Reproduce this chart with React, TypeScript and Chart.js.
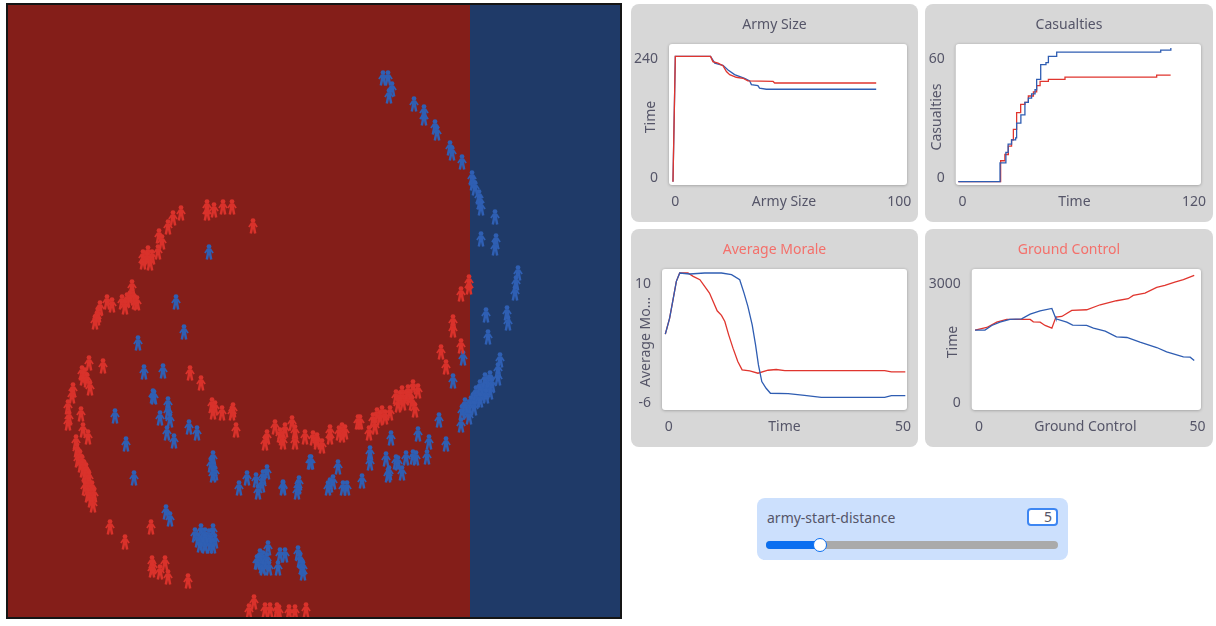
import React, { useEffect, useRef } from "react";
import { Chart, registerables } from "chart.js";

Chart.register(...registerables);

type Pt = [number, number];

const FONT = '"Noto Sans", sans-serif';
const TEXT = "#555568";
const RED = "#e0352e";
const BLUE = "#2f5db2";

// ---- battlefield: troop positions and front line ----
const frontLine = 469.5;

const redTroops: Pt[] = [
  [207,207],[207,213],[214,210],[223,207],[232,207],[253,226],[181,213],[173,218],[168,227],[159,236],[162,242],[158,252],
  [148,253],[143,257],[143,262],[152,257],[150,263],[147,259],[132,287],[132,295],[127,300],[135,302],[137,303],[130,298],
  [122,302],[125,307],[107,302],[112,305],[100,308],[97,318],[95,322],[98,315],
  [89,363],[103,366],[82,373],[85,375],[83,378],[87,380],[90,388],[73,390],[72,396],[68,407],[69,418],[68,423],[81,414],
  [83,430],[88,437],[76,442],[77,450],[78,460],[81,465],[80,457],[83,470],[85,475],[84,467],[86,480],[88,485],[87,475],
  [90,488],[91,493],[89,483],[92,498],[93,505],[91,500],[82,462],[86,470],[89,478],[92,488],[94,495],[85,488],[88,495],
  [110,527],[125,542],[151,527],[152,563],[153,567],[152,570],
  [165,563],[160,572],[168,577],[188,581],[254,602],[249,611],[265,610],[270,610],[277,610],[279,612],[289,612],[295,612],[306,610],
  [190,373],[201,383],[212,405],[215,408],[213,412],[222,413],[232,413],[233,410],[236,430],
  [265,443],[267,437],[275,427],[282,438],[280,435],[283,442],[285,430],[292,423],[295,432],[295,442],[305,437],[313,438],[317,442],
  [453,322],[453,330],[461,346],[441,352],[446,367],[413,387],[418,391],[410,397],[402,393],[396,397],[403,403],[398,405],[412,403],[415,410],
  [406,398],[400,398],[408,392],
  [390,413],[382,413],[377,415],[373,420],[375,427],[369,433],[385,417],[380,418],[358,422],[360,422],[342,430],[342,435],[345,432],[339,433],[330,432],[330,437],[322,446],[317,440],
  [469,282],[469,287],[461,294],
];

const blueTroops: Pt[] = [
  [184,332],[138,343],[144,372],[163,371],[153,396],[154,397],[168,404],[168,412],[170,420],[160,418],[167,433],[174,441],[189,427],[197,433],
  [115,416],[126,444],[134,478],[166,512],[170,519],[213,458],[211,465],[213,468],[215,473],[213,475],[239,488],[247,478],[256,480],[258,492],
  [262,485],[263,477],[267,472],[283,487],[283,488],[299,483],[297,492],[298,487],[310,462],[209,252],[176,302],
  [195,535],[201,531],[213,531],[198,540],[203,543],[207,540],[211,543],[215,541],[200,545],[205,546],[210,546],[213,546],[203,538],[209,536],[205,535],
  [268,548],[263,558],[258,562],[262,566],[265,563],[260,556],[263,568],[267,560],[257,562],[280,555],[285,555],[278,568],[269,568],
  [298,553],[300,560],[303,568],[303,573],[302,567],
  [383,78],[388,78],[392,89],[389,96],[414,104],[424,112],[424,118],[435,127],[437,133],[450,148],[452,153],[462,162],
  [472,178],[473,183],[475,188],[479,197],[480,202],[481,208],[495,217],[481,239],[496,241],[495,248],[518,273],[516,283],[515,293],[486,315],[507,313],[508,323],
  [488,337],[463,358],[453,381],[500,360],[498,370],[498,378],[469,407],[473,400],[478,397],[483,390],[488,383],[490,378],[487,388],[482,395],[477,400],[490,392],
  [471,403],[476,393],[480,387],[485,380],[492,385],[486,396],[480,400],[474,408],[466,412],
  [462,412],[461,425],[469,417],[465,405],[439,420],[418,434],[429,442],[446,444],[427,457],[391,438],[370,453],[370,463],[386,459],[396,462],[398,463],
  [406,458],[413,457],[416,458],[402,473],[388,475],[389,473],[362,481],[338,467],[311,462],[330,485],[333,482],[328,488],[343,488],[347,488],
];

// ---- plots ----
const armyRed: Pt[] = [[0,0],[1,240],[16.1,240],[17.1,230],[19.3,227],[21.4,222],[22.9,211],[24.3,205],[27.1,200],[30,198],[32.1,193],[42.9,192],[43.6,189],[87.1,189]];
const armyBlue: Pt[] = [[0,0],[1,240],[16.1,240],[17.9,227],[21.4,223],[23.6,214],[26.4,205],[30.7,198],[32.9,193],[33.6,186],[36.4,184],[37.1,179],[40,177],[87.1,177]];

const casualtiesBlue: Pt[] = [[0,0],[20.3,0],[20.6,9],[22.5,9],[23.5,14],[24.6,18],[26.3,20],[28.3,21],[28.8,28],[30.9,32],[32.9,38],[34.6,40],[36.2,42],[37.9,44],[38.7,49],[40.4,49],[40.7,56],[43.3,57],[44.5,60],[47.8,60],[48.6,62],[98.8,62],[100,63],[103.8,63],[105,64]];
const casualtiesRed: Pt[] = [[0,0],[20.3,0],[20.9,10],[22.2,10],[23,13],[24.7,17],[26.3,20],[27.2,25],[28.8,33],[30.8,37],[32.9,38],[34.6,41],[37.1,43],[38.7,46],[40.4,48],[44.5,49],[51.9,49],[52.7,50],[97.2,50],[98,51],[104.9,51]];

const moraleRed: Pt[] = [[0,3.26],[0.9,5.31],[1.6,7.65],[2.3,10],[3,11.07],[4.7,11.07],[5.8,10.64],[7.2,10.21],[8.2,9.36],[9.2,8.5],[10.1,7.23],[10.8,6.24],[11.7,5.65],[12.4,4.88],[13.2,3.17],[14.1,1.47],[15.1,-0.24],[16,-1.31],[17.6,-1.44],[19.3,-1.73],[21.4,-1.35],[23.1,-1.26],[24.9,-1.39],[45.7,-1.39],[47.1,-1.56],[50,-1.56]];
const moraleBlue: Pt[] = [[0,3.26],[0.9,5.31],[1.6,7.65],[2.3,10],[3,11.07],[5.1,10.94],[8.2,11.07],[11.7,11.07],[13.8,10.85],[15.5,10.21],[16.4,8.5],[17.2,6.8],[18.1,4.45],[18.8,1.89],[19.4,-0.67],[20.1,-2.8],[21,-3.65],[21.9,-4.29],[25.6,-4.34],[29,-4.55],[32.5,-4.81],[45.7,-4.81],[47.1,-4.59],[50,-4.59]];

const groundRed: Pt[] = [[0,1832],[2.6,1896],[4.8,2024],[7,2088],[12.2,2088],[12.9,2032],[14.4,2024],[15.5,1944],[17,1880],[17.9,2144],[19.2,2160],[21.4,2304],[24.7,2320],[27.7,2440],[31.3,2536],[33.9,2584],[35,2664],[37.6,2720],[40.2,2856],[42,2904],[44.2,2984],[46.1,3040],[48.5,3144]];
const groundBlue: Pt[] = [[0,1832],[2.2,1832],[3.7,1944],[5.5,2024],[7.7,2088],[10.3,2104],[12.2,2216],[14.4,2296],[17,2352],[17.7,2160],[17.9,2104],[20.3,2024],[21.6,1952],[24.7,1944],[26.2,1880],[28.8,1808],[31.3,1672],[33.6,1656],[36.5,1544],[40.2,1416],[42.4,1312],[46.1,1192],[47.6,1184],[48.5,1104]];

const armyXLabels = ["0", "100"];
const armyYLabels = ["0", "240"];
const casualtiesXLabels = ["0", "120"];
const casualtiesYLabels = ["0", "60"];
const moraleXLabels = ["0", "50"];
const moraleYLabels = ["-6", "10"];
const groundXLabels = ["0", "50"];
const groundYLabels = ["0", "3000"];

function personSprite(color: string): HTMLCanvasElement {
  const c = document.createElement("canvas");
  c.width = 10;
  c.height = 16;
  const g = c.getContext("2d")!;
  g.filter = "blur(0.25px)";
  g.fillStyle = color;
  g.strokeStyle = color;
  g.beginPath();
  g.arc(5, 2.6, 2.4, 0, Math.PI * 2);
  g.fill();
  g.fillRect(2.8, 4.4, 4.4, 6);
  g.lineWidth = 1.8;
  g.beginPath();
  g.moveTo(3.6, 5.2);
  g.lineTo(0.9, 9);
  g.moveTo(6.4, 5.2);
  g.lineTo(9.1, 9);
  g.stroke();
  g.lineWidth = 2.5;
  g.beginPath();
  g.moveTo(4, 9.5);
  g.lineTo(2.8, 15.6);
  g.moveTo(6, 9.5);
  g.lineTo(7.2, 15.6);
  g.stroke();
  return c;
}

function World() {
  const ref = useRef<HTMLCanvasElement>(null);
  useEffect(() => {
    const toXY = (a: Pt[]) => a.map(([x, y]) => ({ x, y }));
    const field = {
      id: "field",
      beforeDatasetsDraw(chart: any) {
        const { ctx, chartArea: a, scales } = chart;
        const fx = Math.round(scales.x.getPixelForValue(frontLine));
        ctx.save();
        ctx.fillStyle = "#841e19";
        ctx.fillRect(a.left, a.top, fx - a.left, a.bottom - a.top);
        ctx.fillStyle = "#1f3a68";
        ctx.fillRect(fx, a.top, a.right - fx, a.bottom - a.top);
        ctx.restore();
      },
      afterDraw(chart: any) {
        const { ctx, chartArea: a } = chart;
        ctx.save();
        ctx.strokeStyle = "#151515";
        ctx.lineWidth = 2;
        ctx.strokeRect(a.left - 1, a.top - 1, a.right - a.left + 2, a.bottom - a.top + 2);
        ctx.restore();
      },
    };
    const chart = new Chart(ref.current!, {
      type: "scatter",
      data: {
        datasets: [
          { label: "red", data: toXY(redTroops), pointStyle: personSprite("#d9322b") as any, pointRadius: 6 },
          { label: "blue", data: toXY(blueTroops), pointStyle: personSprite("#2f5fb3") as any, pointRadius: 6 },
        ],
      },
      options: {
        animation: false,
        responsive: false,
        devicePixelRatio: 1,
        layout: { padding: 2, autoPadding: false },
        plugins: { legend: { display: false }, tooltip: { enabled: false } },
        scales: {
          x: { display: false, min: 8, max: 620 },
          y: { display: false, min: 5, max: 617, reverse: true },
        },
      },
      plugins: [field],
    } as any);
    return () => chart.destroy();
  }, []);
  return <canvas ref={ref} width={616} height={616} style={{ position: "absolute", left: 6, top: 3 }} />;
}

function Plot(p: any) {
  const ref = useRef<HTMLCanvasElement>(null);
  useEffect(() => {
    const rightGap = p.width - p.plotLeft - p.plotWidth;
    const backdrop = {
      id: "backdrop",
      beforeDraw(chart: any) {
        const { ctx, chartArea: a } = chart;
        ctx.save();
        ctx.shadowColor = "rgba(0,0,0,0.3)";
        ctx.shadowBlur = 3;
        ctx.shadowOffsetY = 0.5;
        ctx.fillStyle = "#fff";
        ctx.beginPath();
        ctx.roundRect(a.left, a.top, a.right - a.left, a.bottom - a.top, 3);
        ctx.fill();
        ctx.restore();
      },
      afterLayout(chart: any) {
        chart.scales.y.bottom += 5;
        chart.scales.x.right -= p.xShift ?? 0;
        if (chart.titleBlock) chart.titleBlock.right += rightGap;
      },
    };
    const font = { family: FONT, size: 14 };
    const chart = new Chart(ref.current!, {
      type: "line",
      data: {
        datasets: p.series.map((s: any) => ({
          data: s.data.map(([x, y]: Pt) => ({ x, y })),
          borderColor: s.color,
          borderWidth: 1.3,
          pointRadius: 0,
          stepped: p.stepped ? ("before" as const) : false,
          tension: 0,
        })),
      },
      options: {
        animation: false,
        responsive: false,
        devicePixelRatio: 1,
        parsing: false,
        layout: { padding: { left: 0, top: 0, right: rightGap, bottom: 0 }, autoPadding: false },
        plugins: {
          legend: { display: false },
          tooltip: { enabled: false },
          title: {
            display: true,
            text: p.title,
            color: p.titleColor,
            font: { ...font, weight: "normal", lineHeight: 1.2 },
            padding: { top: 12.6, bottom: 10.6 },
          },
        },
        scales: {
          x: {
            type: "linear",
            min: p.xRange[0],
            max: p.xRange[1],
            grid: { display: false, drawTicks: false },
            border: { display: false },
            title: { display: true, text: p.xTitle, color: TEXT, font, padding: { top: 0, bottom: 11.6 } },
            afterBuildTicks: (s: any) => { s.ticks = p.xTicks.map((value: number) => ({ value })); },
            afterFit: (s: any) => { s.height = 37; s.paddingLeft = 0; s.paddingRight = 0; },
            ticks: {
              autoSkip: false, maxRotation: 0, padding: 9, color: TEXT, font,
              callback: (_v: any, i: number) => p.xLabels[i],
            },
          },
          y: {
            type: "linear",
            min: p.yRange[0],
            max: p.yRange[1],
            grid: { display: false, drawTicks: false },
            border: { display: false },
            title: { display: true, text: p.yTitle, color: TEXT, font, padding: { top: p.yTitlePad, bottom: 0 } },
            afterBuildTicks: (s: any) => { s.ticks = p.yTicks.map((value: number) => ({ value })); },
            afterFit: (s: any) => { s.width = p.plotLeft; s.paddingTop = 0; s.paddingBottom = 0; },
            ticks: {
              autoSkip: false, padding: 11, color: TEXT, font, labelOffset: 1,
              callback: (_v: any, i: number) => p.yLabels[i],
            },
          },
        },
      },
      plugins: [backdrop],
    } as any);
    return () => chart.destroy();
  }, []);
  return (
    <div style={{ position: "absolute", left: p.left, top: p.top, width: p.width, height: p.height, background: "#d7d7d7", borderRadius: 8 }}>
      <canvas ref={ref} width={p.width} height={p.height} style={{ display: "block" }} />
    </div>
  );
}

function Slider() {
  return (
    <div style={{ position: "absolute", left: 757, top: 498, width: 311, height: 62, background: "#cce0fd", borderRadius: 8, font: `14px ${FONT}`, color: TEXT }}>
      <div style={{ position: "absolute", left: 10, top: 10, lineHeight: "20px" }}>army-start-distance</div>
      <div style={{ position: "absolute", left: 270, top: 10, width: 31, height: 18, boxSizing: "border-box", background: "#fff", border: "2px solid #3d86f2", borderRadius: 4, textAlign: "right", paddingRight: 4, lineHeight: "14px" }}>5</div>
      <div style={{ position: "absolute", left: 9, top: 43, width: 292, height: 8, background: "#aaaaaa", borderRadius: 4 }} />
      <div style={{ position: "absolute", left: 9, top: 43, width: 54, height: 8, background: "#0b6ff0", borderRadius: 4 }} />
      <div style={{ position: "absolute", left: 56, top: 40, width: 14, height: 14, boxSizing: "border-box", background: "#fff", border: "1.5px solid #0b6ff0", borderRadius: "50%" }} />
    </div>
  );
}

export default function App() {
  return (
    <div style={{ position: "absolute", left: 0, top: 0, width: 1216, height: 626, overflow: "hidden", background: "#fff" }}>
      <World />
      <Plot left={631} top={4} width={287} height={218} plotLeft={38} plotWidth={238} yTitlePad={11.6} title="Army Size" titleColor={TEXT} xTitle="Army Size" yTitle="Time"
        xLabels={armyXLabels} yLabels={armyYLabels} xTicks={[1, 97]} yTicks={[9.6, 236.8]} xRange={[-1.71, 100.3]} yRange={[-6.4, 263.7]} xShift={8}
        series={[{ color: RED, data: armyRed }, { color: BLUE, data: armyBlue }]} />
      <Plot left={925} top={4} width={288} height={218} plotLeft={30.7} plotWidth={245.3} yTitlePad={3.6} title="Casualties" titleColor={TEXT} xTitle="Time" yTitle="Casualties"
        xLabels={casualtiesXLabels} yLabels={casualtiesYLabels} xTicks={[2.1, 116.5]} yTicks={[2.4, 59.2]} xRange={[-1.3, 119.9]} yRange={[-1.6, 65.9]} xShift={8} stepped
        series={[{ color: BLUE, data: casualtiesBlue }, { color: RED, data: casualtiesRed }]} />
      <Plot left={631} top={229} width={287} height={218} plotLeft={31} plotWidth={245} yTitlePad={6.3} title="Average Morale" titleColor="#f4706b" xTitle="Time" yTitle="Average Mo..."
        xLabels={moraleXLabels} yLabels={moraleYLabels} xTicks={[0.7, 49.5]} yTicks={[-5.36, 9.79]} xRange={[-0.69, 50.35]} yRange={[-6.43, 11.58]}
        series={[{ color: BLUE, data: moraleBlue }, { color: RED, data: moraleRed }]} />
      <Plot left={925} top={229} width={288} height={218} plotLeft={46.7} plotWidth={229.3} yTitlePad={19.6} title="Ground Control" titleColor="#f4706b" xTitle="Ground Control" yTitle="Time"
        xLabels={groundXLabels} yLabels={groundYLabels} xTicks={[0.9, 49.2]} yTicks={[120, 2960]} xRange={[-0.74, 50]} yRange={[-80, 3296]} xShift={2}
        series={[{ color: BLUE, data: groundBlue }, { color: RED, data: groundRed }]} />
      <Slider />
    </div>
  );
}
